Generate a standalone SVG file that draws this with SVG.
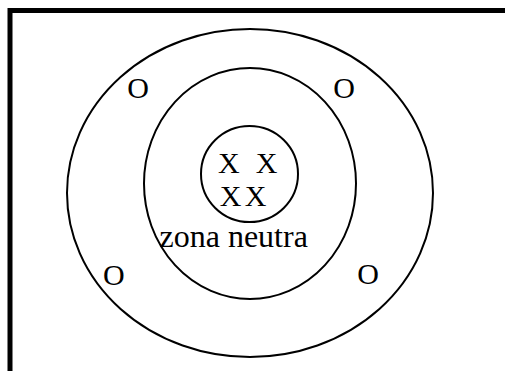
<svg xmlns="http://www.w3.org/2000/svg" width="505" height="371" viewBox="0 0 505 371">
<style>
.ring{fill:none;stroke:#000;stroke-width:2}
.t{font-family:"Liberation Serif","Times New Roman",serif;fill:#000}
</style>
<rect x="0" y="0" width="505" height="371" fill="#fff"/>
<rect x="10" y="10.5" width="600" height="400" fill="none" stroke="#000" stroke-width="5"/>
<g id="outer"><ellipse class="ring" cx="250" cy="193" rx="183" ry="164"/></g>
<g id="middle"><ellipse class="ring" cx="250" cy="183.5" rx="106" ry="115.5"/></g>
<g id="inner"><ellipse class="ring" cx="249.5" cy="174" rx="48.5" ry="48"/></g>
<g id="labels">
<text class="t" font-size="30" x="127.3" y="98">O</text>
<text class="t" font-size="30" x="333.3" y="98">O</text>
<text class="t" font-size="30" x="103" y="284.5">O</text>
<text class="t" font-size="30" x="357.3" y="284">O</text>
<text class="t" font-size="30" x="218" y="172.5">X</text>
<text class="t" font-size="30" x="255.7" y="172.5">X</text>
<text class="t" font-size="30" x="219.7" y="206">X</text>
<text class="t" font-size="30" x="244.7" y="206">X</text>
<text class="t" font-size="32" x="159.5" y="246.7">zona neutra</text>
</g>
</svg>
